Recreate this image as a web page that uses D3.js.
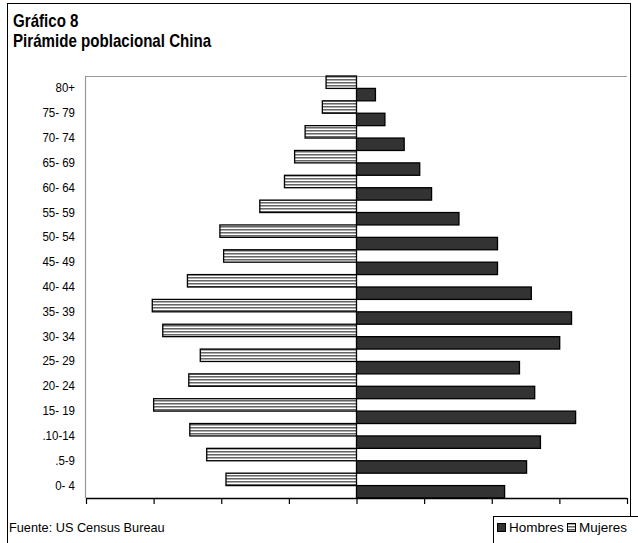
<!DOCTYPE html>
<html>
<head>
<meta charset="utf-8">
<script src="https://cdn.jsdelivr.net/npm/d3@7"></script>
<style>
  html, body { margin: 0; padding: 0; background: #fff; }
  svg { display: block; }
  text { font-family: "Liberation Sans", Arial, sans-serif; fill: #000; }
</style>
</head>
<body>
<div id="chart"></div>
<script>
// Age groups, top to bottom
const ageGroups = ["80+", "75- 79", "70- 74", "65- 69", "60- 64", "55- 59", "50- 54", "45- 49",
  "40- 44", "35- 39", "30- 34", "25- 29", "20- 24", "15- 19", ".10-14", ".5-9", "0- 4"];

// Population by sex, millions
const mujeres = [9.0, 10.1, 15.2, 18.3, 21.3, 28.6, 40.4, 39.3, 50.0, 60.4, 57.3, 46.2, 49.6, 60.0, 49.3, 44.3, 38.6];
const hombres = [5.6, 8.4, 14.1, 18.7, 22.2, 30.3, 41.7, 41.7, 51.7, 63.6, 60.1, 48.2, 52.7, 64.8, 54.4, 50.3, 43.8];

const xTicks = [-80, -60, -40, -20, 0, 20, 40, 60, 80];
const seriesNames = ["Mujeres", "Hombres"];
const legendOrder = ["Hombres", "Mujeres"];

const W = 638, H = 543;
const plot = { left: 86, right: 627, top: 76, bottom: 498 };

const svg = d3.select("#chart").append("svg")
  .attr("width", W).attr("height", H);

// Text helper: condensed by a horizontal scale around its anchor point
function label(parent, x0, y0, str, size, opts = {}) {
  const g = parent.append("g")
    .attr("transform", `translate(${x0},${y0}) scale(${opts.sx || 0.9},1)`);
  return g.append("text")
    .attr("font-size", size)
    .attr("font-weight", opts.weight || "normal")
    .attr("text-anchor", opts.anchor || "start")
    .text(str);
}

// Striped fill for the female series
const defs = svg.append("defs");
const pat = defs.append("pattern")
  .attr("id", "stripes")
  .attr("patternUnits", "userSpaceOnUse")
  .attr("width", 4).attr("height", 3);
pat.append("rect").attr("width", 4).attr("height", 3).attr("fill", "#ffffff");
pat.append("rect").attr("y", 1).attr("width", 4).attr("height", 1).attr("fill", "#666666");
pat.append("rect").attr("y", 2).attr("width", 4).attr("height", 1).attr("fill", "#acacac");

const fills = { Hombres: "#333333", Mujeres: "url(#stripes)" };

// Outer frame
svg.append("rect")
  .attr("x", 7.5).attr("y", 3.5)
  .attr("width", 623).attr("height", 560)
  .attr("fill", "none").attr("stroke", "#000").attr("stroke-width", 1);

// Titles
label(svg, 13, 27, "Gráfico 8", 18, { weight: "bold", sx: 0.84 });
label(svg, 13, 47, "Pirámide poblacional China", 18, { weight: "bold", sx: 0.84 });

// Scales
const x = d3.scaleLinear().domain([-80, 80]).range([plot.left, plot.right]);
const y = d3.scaleBand().domain(ageGroups).range([plot.top, plot.bottom]).padding(0);
const ySub = d3.scaleBand().domain(seriesNames).range([0, y.bandwidth()]).padding(0);

// Plot area edges
svg.append("line")
  .attr("x1", plot.left).attr("x2", plot.right)
  .attr("y1", plot.top + 0.5).attr("y2", plot.top + 0.5)
  .attr("stroke", "#999").attr("stroke-width", 1.2);
svg.append("line")
  .attr("x1", plot.left - 0.5).attr("x2", plot.left - 0.5)
  .attr("y1", plot.top).attr("y2", plot.bottom)
  .attr("stroke", "#999").attr("stroke-width", 1.2);

// Bars
const rows = ageGroups.map((g, i) => ({ group: g, Mujeres: mujeres[i], Hombres: hombres[i] }));
const barG = svg.append("g");
rows.forEach(r => {
  seriesNames.forEach(s => {
    const v = s === "Mujeres" ? -r[s] : r[s];
    const x0 = Math.min(x(0), x(v)), x1 = Math.max(x(0), x(v));
    barG.append("rect")
      .attr("x", x0).attr("y", y(r.group) + ySub(s))
      .attr("width", x1 - x0).attr("height", ySub.bandwidth())
      .attr("fill", fills[s])
      .attr("stroke", "#000").attr("stroke-width", 1.3);
  });
});

// Category labels
const yAxis = d3.axisLeft(y).tickSize(0).tickPadding(11);
const yG = svg.append("g").attr("transform", `translate(${plot.left},0)`).call(yAxis);
yG.select(".domain").remove();
yG.selectAll("text")
  .attr("font-size", 12.5).attr("font-family", null)
  .attr("transform", "scale(0.92,1)")
  .attr("x", -11 / 0.92);

// Horizontal axis (no labels)
const xAxis = d3.axisBottom(x).tickValues(xTicks).tickSize(6).tickFormat("");
const xG = svg.append("g").attr("transform", `translate(0,${plot.bottom})`).call(xAxis);
xG.select(".domain").attr("stroke", "#000").attr("stroke-width", 1.3)
  .attr("d", `M${plot.left},0.5H${plot.right}`);
xG.selectAll(".tick line").attr("stroke", "#000").attr("stroke-width", 1.2);

// Source note
label(svg, 9, 532, "Fuente: US Census Bureau", 13, { sx: 0.98 });

// Legend
const lg = svg.append("g");
lg.append("rect").attr("x", 493.5).attr("y", 516.5)
  .attr("width", 200).attr("height", 60)
  .attr("fill", "#fff").attr("stroke", "#000");
const legendX = { Hombres: 497, Mujeres: 567 };
legendOrder.forEach(s => {
  lg.append("rect").attr("x", legendX[s] + 0.5).attr("y", 523.5)
    .attr("width", 8).attr("height", 8)
    .attr("fill", fills[s]).attr("stroke", "#000");
  label(lg, legendX[s] + 12, 532, s, 13.5, { sx: 1 });
});
</script>
</body>
</html>
